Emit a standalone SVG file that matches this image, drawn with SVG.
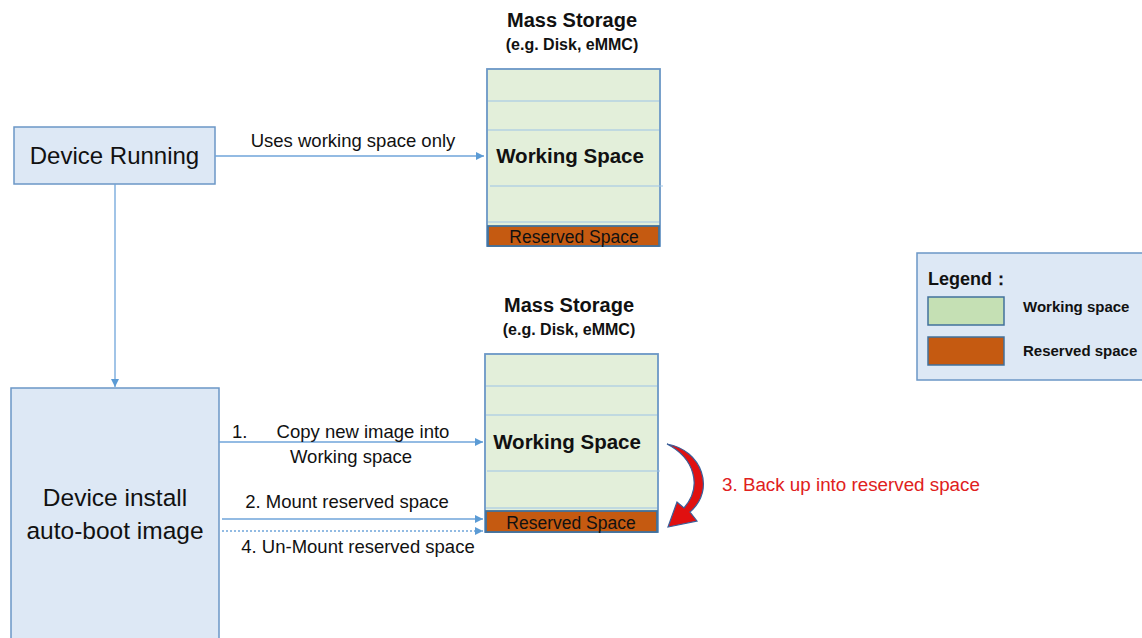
<svg xmlns="http://www.w3.org/2000/svg" width="1142" height="638" viewBox="0 0 1142 638">
<style>
text{font-family:"Liberation Sans",Arial,sans-serif;fill:#111}
.b{font-weight:bold}
.box{fill:#dde8f5;stroke:#6b97c6;stroke-width:1.5}
.stor{fill:#e3efda;stroke:#6b97c6;stroke-width:1.8}
.sep{stroke:#9dc3e6;stroke-width:1.2}
.res{fill:#c55a11;stroke:#41719c;stroke-width:1.8}
.ln{stroke:#6fa5da;stroke-width:1.3;fill:none}
</style>
<defs>
<marker id="ah" viewBox="0 0 10 10" refX="10" refY="5" markerWidth="8" markerHeight="8" markerUnits="userSpaceOnUse" orient="auto">
<path d="M0,0 L10,5 L0,10 Z" fill="#5b9bd5"/>
</marker>
</defs>

<g id="device-running">
<rect class="box" x="14" y="127" width="201" height="57"/>
<text x="114.5" y="164" font-size="24" text-anchor="middle">Device Running</text>
</g>

<g id="device-install">
<rect class="box" x="11" y="388" width="208" height="260"/>
<text x="115" y="506" font-size="24.5" text-anchor="middle">Device install</text>
<text x="115" y="539" font-size="24.5" text-anchor="middle">auto-boot image</text>
</g>

<g id="storage-top">
<text class="b" x="572" y="27" font-size="20" text-anchor="middle">Mass Storage</text>
<text class="b" x="572" y="50" font-size="16" text-anchor="middle">(e.g. Disk, eMMC)</text>
<rect class="stor" x="487" y="69" width="173" height="177"/>
<line class="sep" x1="488" y1="101" x2="659" y2="101"/>
<line class="sep" x1="488" y1="130" x2="659" y2="130"/>
<line class="sep" x1="490" y1="186" x2="663" y2="186"/>
<line class="sep" x1="488" y1="222" x2="659" y2="222"/>
<text class="b" x="570" y="163" font-size="20.5" text-anchor="middle">Working Space</text>
<rect class="res" x="488" y="226" width="171" height="20"/>
<text x="574" y="243" font-size="17.5" text-anchor="middle">Reserved Space</text>
</g>

<g id="storage-bottom">
<text class="b" x="569" y="312" font-size="20" text-anchor="middle">Mass Storage</text>
<text class="b" x="569" y="335" font-size="16" text-anchor="middle">(e.g. Disk, eMMC)</text>
<rect class="stor" x="485" y="354" width="173" height="178"/>
<line class="sep" x1="486" y1="386" x2="657" y2="386"/>
<line class="sep" x1="486" y1="415" x2="657" y2="415"/>
<line class="sep" x1="487" y1="471" x2="660" y2="471"/>
<line class="sep" x1="486" y1="508" x2="657" y2="508"/>
<text class="b" x="567" y="449" font-size="20.5" text-anchor="middle">Working Space</text>
<rect class="res" x="486" y="511" width="171" height="21"/>
<text x="571" y="529" font-size="17.5" text-anchor="middle">Reserved Space</text>
</g>

<g id="legend">
<rect x="917" y="253" width="240" height="127" fill="#dde8f5" stroke="#6b97c6" stroke-width="1.5"/>
<text class="b" x="928" y="285" font-size="18">Legend：</text>
<rect x="928" y="297" width="76" height="28" fill="#c5e0b4" stroke="#41719c" stroke-width="1.5"/>
<text class="b" x="1023" y="312" font-size="15">Working space</text>
<rect x="928" y="337" width="76" height="28" fill="#c55a11" stroke="#41719c" stroke-width="1.5"/>
<text class="b" x="1023" y="356" font-size="15">Reserved space</text>
</g>

<g id="connectors">
<line class="ln" x1="215" y1="156" x2="484" y2="156" marker-end="url(#ah)"/>
<text x="353" y="147" font-size="18.5" text-anchor="middle">Uses working space only</text>
<line class="ln" x1="115" y1="184" x2="115" y2="387" marker-end="url(#ah)"/>
<line class="ln" x1="219" y1="442" x2="483" y2="442" marker-end="url(#ah)"/>
<text x="232" y="438" font-size="18.5">1.</text>
<text x="363" y="438" font-size="18.5" text-anchor="middle">Copy new image into</text>
<text x="351" y="463" font-size="18.5" text-anchor="middle">Working space</text>
<line class="ln" x1="222" y1="519" x2="483" y2="519" marker-end="url(#ah)"/>
<text x="347" y="508" font-size="18.5" text-anchor="middle">2. Mount reserved space</text>
<line class="ln" x1="222" y1="531" x2="483" y2="531" stroke-dasharray="2 2" marker-end="url(#ah)"/>
<text x="358" y="553" font-size="18.5" text-anchor="middle">4. Un-Mount reserved space</text>
<path d="M667 444 C702 450 716 490 690 512 L697 521 L668 527 L677 502 L684 508 C703 486 694 458 667 444 Z" fill="#e01010" stroke="#3a5f9a" stroke-width="1.2"/>
<text x="722" y="491" font-size="18.8" style="fill:#e02020">3. Back up into reserved space</text>
</g>
</svg>
